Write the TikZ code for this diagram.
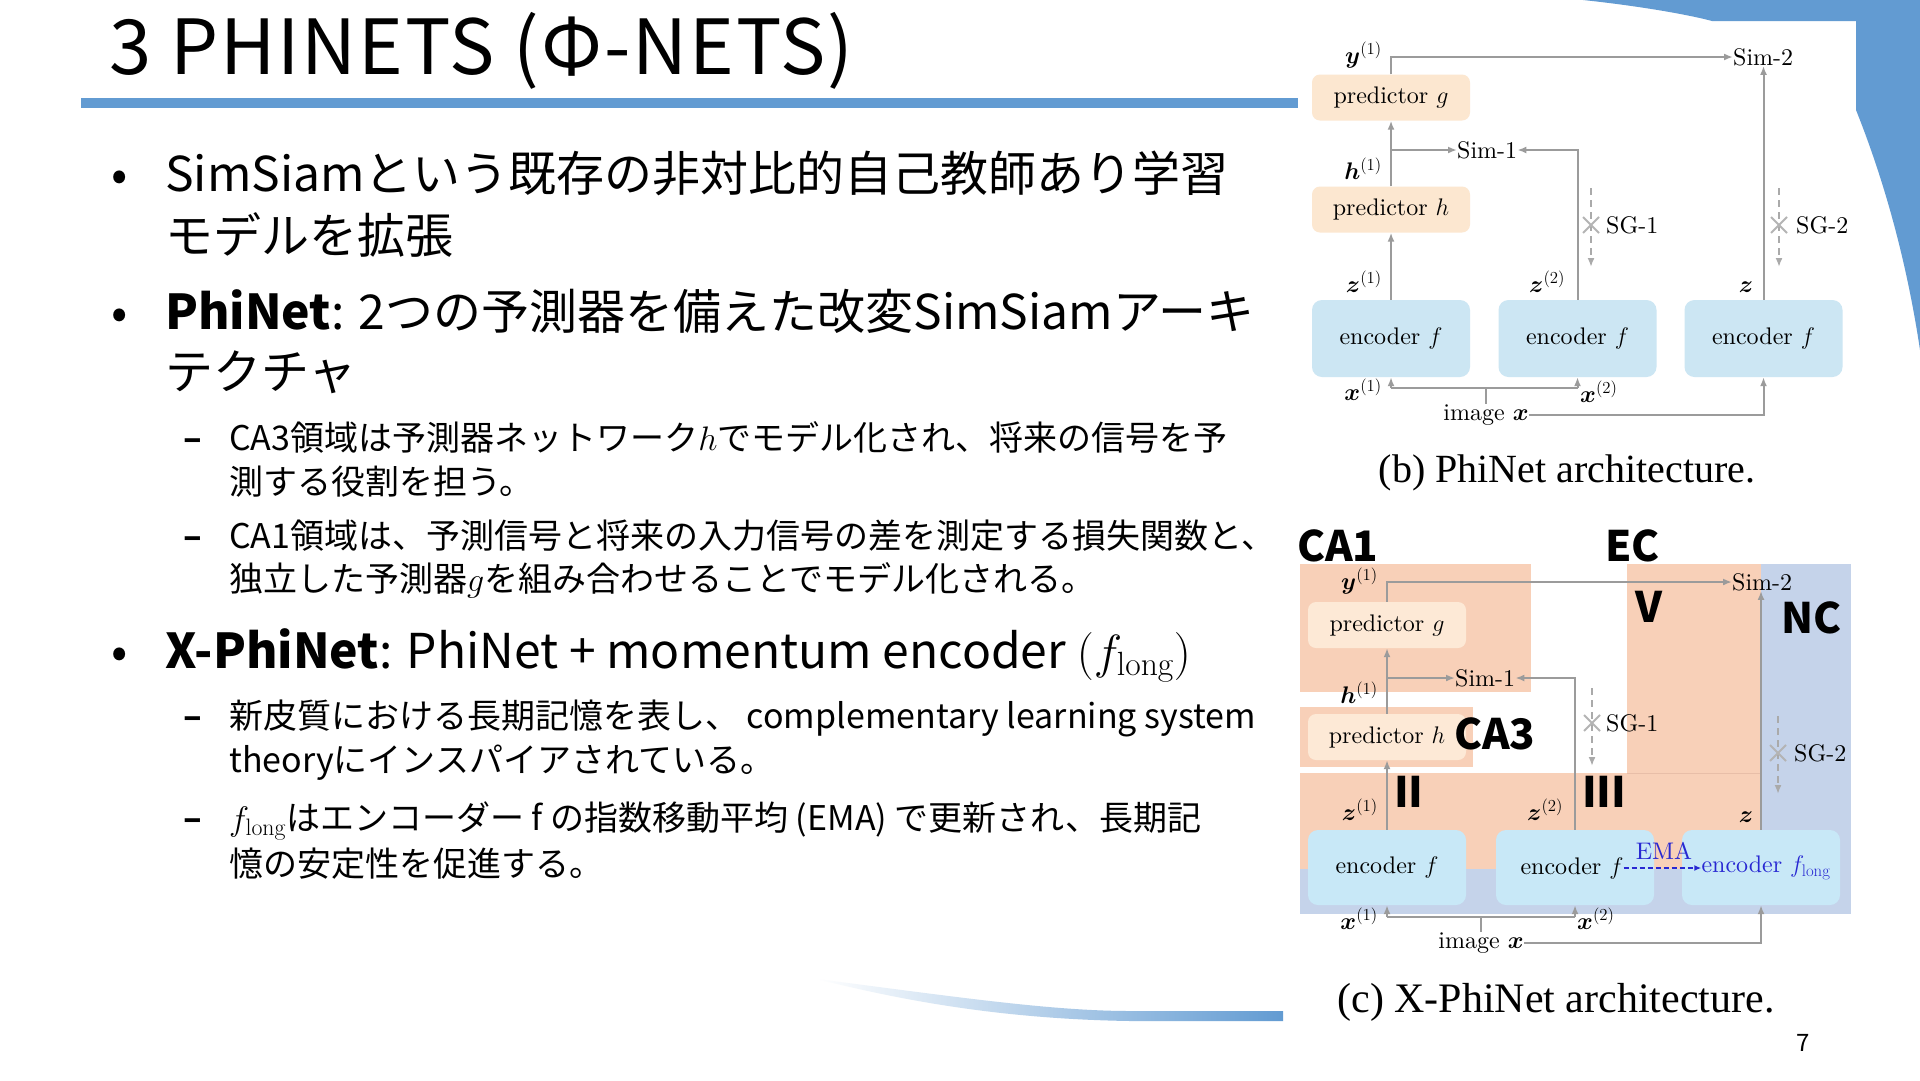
\RequirePackage{fix-cm}
\documentclass[tikz,border=0pt]{standalone}
\usepackage{amsmath}
\usepackage{bm}
\usepackage{fontspec}
\usetikzlibrary{arrows.meta}
\newfontfamily\jp{Noto Sans CJK JP}
\newfontfamily\jptitle{Noto Sans CJK JP}[LetterSpace=2.5]
\newfontfamily\capfont{Liberation Serif}
\newfontfamily\dfont{lmroman10-regular}[Extension=.otf]
\definecolor{slideblue}{RGB}{98,155,210}
\definecolor{lncol}{RGB}{155,155,155}
\definecolor{predfill}{RGB}{252,231,208}
\definecolor{encfill}{RGB}{204,230,243}
\definecolor{predfillc}{RGB}{253,233,214}
\definecolor{encfillc}{RGB}{200,232,247}
\definecolor{regor}{RGB}{248,208,184}
\definecolor{regbl}{RGB}{197,211,234}
\definecolor{regline}{RGB}{232,190,168}
\definecolor{emablue}{RGB}{40,40,210}
\tikzset{
 dbox/.style={rounded corners=8pt, minimum width=158pt, minimum height=46pt, inner sep=0pt, font=\dfont\fontsize{24}{28}\selectfont},
 predb/.style={dbox, fill=predfill},
 encb/.style={dbox, fill=encfill, minimum height=77pt, rounded corners=10pt},
 mlab/.style={inner sep=0pt, font=\fontsize{24}{28}\selectfont},
 dtext/.style={inner sep=0pt, font=\dfont\fontsize{24}{28}\selectfont},
 gline/.style={draw=lncol, line width=2pt},
 garrow/.style={gline, -{Latex[length=9pt,width=7pt]}},
 sgline/.style={draw=lncol!85, line width=2pt, dash pattern=on 7pt off 5pt, -{Latex[length=9pt,width=7pt]}},
 crossm/.style={draw=lncol!75, line width=2pt},
 emaarrow/.style={draw=emablue, line width=1.6pt, dash pattern=on 5pt off 3pt, -{Latex[length=7pt,width=6pt]}},
 regl/.style={inner sep=0pt, anchor=base west, font=\jp\bfseries\fontsize{42}{46}\selectfont},
 lone/.style={inner sep=0pt, anchor=base west, font=\jp\fontsize{48}{56}\selectfont},
 ltwo/.style={inner sep=0pt, anchor=base west, font=\jp\fontsize{34}{40}\selectfont},
 captxt/.style={inner sep=0pt, font=\capfont\fontsize{40}{44}\selectfont},
}
\begin{document}
\begin{tikzpicture}[x=1pt,y=-1pt]
\useasboundingbox (0,0) rectangle (1920,1080);
\fill[white] (0,0) rectangle (1920,1080);
% decorations
\fill[slideblue] (1583,0) .. controls (1640,6) and (1690,15) .. (1712,21) -- (1856,21) -- (1856,110) .. controls (1880,170) and (1905,250) .. (1920,350) -- (1920,0) -- cycle;
\fill[slideblue] (81,98) rectangle (1298,108);
\shade[left color=white, right color=slideblue] (817,979) .. controls (950,996) and (1050,1011) .. (1130,1011) -- (1283,1011) -- (1283,1021) -- (1130,1021) .. controls (1000,1019) and (900,1000) .. (817,979) -- cycle;
% title
\node[inner sep=0pt, anchor=base west, font=\jptitle\fontsize{76}{80}\selectfont] (title) at (109,74) {3 PHINETS (Φ-NETS)};
% bullets
\node[lone, anchor=base] (b1) at (120,191) {•};
\node[lone] (t1a) at (165,191) {SimSiamという既存の非対比的自己教師あり学習};
\node[lone] (t1b) at (165,253) {モデルを拡張};
\node[lone, anchor=base] (b2) at (120,329) {•};
\node[lone] (t2a) at (165,329) {{\bfseries PhiNet}: 2つの予測器を備えた改変SimSiamアーキ};
\node[lone] (t2b) at (165,389) {テクチャ};
\node[ltwo] (d1) at (183,450) {\bfseries –};
\node[ltwo] (s1a) at (229,450) {CA3領域は予測器ネットワーク$h$でモデル化され、将来の信号を予};
\node[ltwo] (s1b) at (229,494) {測する役割を担う。};
\node[ltwo] (d2) at (183,548) {\bfseries –};
\node[ltwo] (s2a) at (229,548) {CA1領域は、予測信号と将来の入力信号の差を測定する損失関数と、};
\node[ltwo] (s2b) at (229,591) {独立した予測器$g$を組み合わせることでモデル化される。};
\node[lone, anchor=base] (b3) at (120,668) {•};
\node[lone] (t3a) at (165,668) {{\bfseries X-PhiNet}: PhiNet + momentum encoder $(f_{\mathrm{long}})$};
\node[ltwo] (d3) at (183,728) {\bfseries –};
\node[ltwo] (s3a) at (229,728) {新皮質における長期記憶を表し、 complementary learning system};
\node[ltwo] (s3b) at (229,772) {theoryにインスパイアされている。};
\node[ltwo] (d4) at (183,830) {\bfseries –};
\node[ltwo] (s4a) at (229,830) {$f_{\mathrm{long}}$はエンコーダー f の指数移動平均 (EMA) で更新され、長期記};
\node[ltwo] (s4b) at (229,876) {憶の安定性を促進する。};
% ---------- (b) PhiNet ----------
\node[predb] (pg) at (1391,97.5) {predictor $g$};
\node[predb] (ph) at (1391,209.5) {predictor $h$};
\node[encb] (e1) at (1391,338.5) {encoder $f$};
\node[encb] (e2) at (1577.5,338.5) {encoder $f$};
\node[encb] (e3) at (1763.5,338.5) {encoder $f$};
\node[dtext, anchor=west] (s2) at (1733,57) {Sim-2};
\node[dtext, anchor=west] (s1) at (1457,150) {Sim-1};
\draw[garrow] (pg.north) |- (s2.west);
\draw[garrow] (e3.north) -- (e3.north |- s2.south);
\draw[garrow] (ph.north) -- (pg.south);
\draw[garrow] (ph.north |- s1.west) -- (s1.west);
\draw[garrow] (e2.north) |- (s1.east);
\draw[garrow] (e1.north) -- (ph.south);
\coordinate (sg1a) at (1591,188); \coordinate (sg1b) at (1591,267); \coordinate (sg1x) at (1591,225);
\draw[sgline] (sg1a) -- (sg1b);
\draw[crossm] (sg1x) ++(-8,-8) -- ++(16,16) (sg1x) ++(-8,8) -- ++(16,-16);
\node[dtext, anchor=west] (sg1t) at (1606,225) {SG-1};
\coordinate (sg2a) at (1779,188); \coordinate (sg2b) at (1779,267); \coordinate (sg2x) at (1779,225);
\draw[sgline] (sg2a) -- (sg2b);
\draw[crossm] (sg2x) ++(-8,-8) -- ++(16,16) (sg2x) ++(-8,8) -- ++(16,-16);
\node[dtext, anchor=west] (sg2t) at (1796,225) {SG-2};
\node[mlab, anchor=base east] (ly1) at (1382,63) {$\bm{y}^{(1)}$};
\node[mlab, anchor=base east] (lh1) at (1382,179) {$\bm{h}^{(1)}$};
\node[mlab, anchor=base east] (lz1) at (1382,292) {$\bm{z}^{(1)}$};
\node[mlab, anchor=base west] (lz2) at (1529,292) {$\bm{z}^{(2)}$};
\node[mlab, anchor=base] (lz) at (1746,292) {$\bm{z}$};
\node[mlab, anchor=base east] (lx1) at (1382,400) {$\bm{x}^{(1)}$};
\node[mlab, anchor=base west] (lx2) at (1580,402) {$\bm{x}^{(2)}$};
\coordinate (bl) at (1391,388); \coordinate (br) at (1577.5,388);
\draw[gline] (bl) -- (br);
\draw[garrow] (bl) -- (e1.south);
\draw[garrow] (br) -- (e2.south);
\node[dtext] (img) at (1486,415) {image $\bm{x}$};
\draw[gline] (img.north |- bl) -- (img.north);
\draw[garrow] (img.east) -| (e3.south);
\node[captxt] (capb) at (1567,473) {(b) PhiNet architecture.};
% ---------- (c) X-PhiNet ----------
\fill[regor] (1300,564) rectangle (1531,692);
\fill[regor] (1300,707) rectangle (1473,767);
\fill[regor] (1627,564) rectangle (1761,773);
\fill[regor] (1300,773) rectangle (1761,869);
\fill[regbl] (1761,564) rectangle (1851,914);
\fill[regbl] (1300,869) rectangle (1761,914);
\draw[regline, line width=1pt] (1627,773) -- (1761,773);
\node[predb, fill=predfillc] (pgc) at (1387,625) {predictor $g$};
\node[predb, fill=predfillc] (phc) at (1387,737) {predictor $h$};
\node[encb, fill=encfillc, minimum height=75pt] (e1c) at (1387,867.5) {encoder $f$};
\node[encb, fill=encfillc, minimum height=75pt] (e2c) at (1575,867.5) {};
\node[encb, fill=encfillc, minimum height=75pt] (e3c) at (1761,867.5) {};
\node[dtext] (t2c) at (1572,868) {encoder $f$};
\node[dtext, text=emablue] (t3c) at (1766,868) {encoder $f_{\mathrm{long}}$};
\draw[emaarrow] (t2c.east) -- (t3c.west);
\node[dtext, text=emablue] (ema) at (1664,851) {EMA};
\node[dtext, anchor=west] (s2c) at (1732,582) {Sim-2};
\node[dtext, anchor=west] (s1c) at (1455,678) {Sim-1};
\draw[garrow] (pgc.north) |- (s2c.west);
\draw[garrow] (e3c.north) -- (e3c.north |- s2c.south);
\draw[garrow] (phc.north) -- (pgc.south);
\draw[garrow] (phc.north |- s1c.west) -- (s1c.west);
\draw[garrow] (e2c.north) |- (s1c.east);
\draw[garrow] (e1c.north) -- (phc.south);
\coordinate (sg1ca) at (1592,688); \coordinate (sg1cb) at (1592,766); \coordinate (sg1cx) at (1592,723);
\draw[sgline] (sg1ca) -- (sg1cb);
\draw[crossm] (sg1cx) ++(-8,-8) -- ++(16,16) (sg1cx) ++(-8,8) -- ++(16,-16);
\node[dtext, anchor=west] (sg1ct) at (1606,723) {SG-1};
\coordinate (sg2ca) at (1778,716); \coordinate (sg2cb) at (1778,794); \coordinate (sg2cx) at (1778,753);
\draw[sgline] (sg2ca) -- (sg2cb);
\draw[crossm] (sg2cx) ++(-8,-8) -- ++(16,16) (sg2cx) ++(-8,8) -- ++(16,-16);
\node[dtext, anchor=west] (sg2ct) at (1794,753) {SG-2};
\node[mlab, anchor=base east] (ly1c) at (1378,589) {$\bm{y}^{(1)}$};
\node[mlab, anchor=base east] (lh1c) at (1378,703) {$\bm{h}^{(1)}$};
\node[mlab, anchor=base east] (lz1c) at (1378,820) {$\bm{z}^{(1)}$};
\node[mlab, anchor=base west] (lz2c) at (1527,820) {$\bm{z}^{(2)}$};
\node[mlab, anchor=base] (lzc) at (1746,822) {$\bm{z}$};
\node[mlab, anchor=base east] (lx1c) at (1378,929) {$\bm{x}^{(1)}$};
\node[mlab, anchor=base west] (lx2c) at (1577,929) {$\bm{x}^{(2)}$};
\coordinate (blc) at (1387,917); \coordinate (brc) at (1575,917);
\draw[gline] (blc) -- (brc);
\draw[garrow] (blc) -- (e1c.south);
\draw[garrow] (brc) -- (e2c.south);
\node[dtext] (imgc) at (1481,943) {image $\bm{x}$};
\draw[gline] (imgc.north |- blc) -- (imgc.north);
\draw[garrow] (imgc.east) -| (e3c.south);
\node[regl] (ca1) at (1297,561) {CA1};
\node[regl] (ec) at (1605,561) {EC};
\node[regl] (vv) at (1635,622) {V};
\node[regl] (nc) at (1781,633) {NC};
\node[regl] (ca3) at (1454,749) {CA3};
\node[regl] (ii) at (1394,807) {II};
\node[regl] (iii) at (1582,807) {III};
\node[captxt, font=\capfont\fontsize{42}{46}\selectfont] (capc) at (1556,1002) {(c) X-PhiNet architecture.};
\node[inner sep=0pt, font=\jp\fontsize{24}{28}\selectfont] (pnum) at (1803,1043) {7};
\end{tikzpicture}
\end{document}
